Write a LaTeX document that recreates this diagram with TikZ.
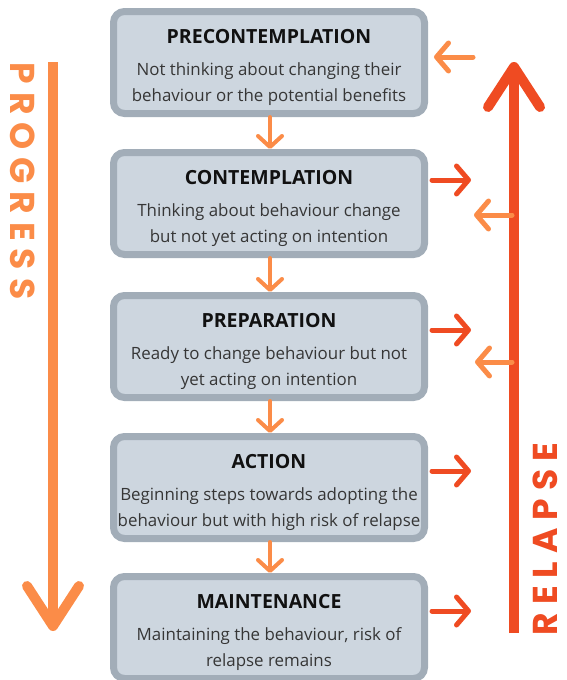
\documentclass[tikz,border=0pt]{standalone}
\usepackage{fontspec}
\setmainfont{Open Sans}
\newfontfamily\popfont[LetterSpace=23]{Poppins}
\usetikzlibrary{arrows.meta,calc}
\definecolor{boxfill}{HTML}{CDD6DF}
\definecolor{boxline}{HTML}{A2ADB8}
\definecolor{titlecol}{HTML}{111111}
\definecolor{bodycol}{HTML}{363636}
\definecolor{progcol}{HTML}{FB8C48}
\definecolor{relcol}{HTML}{EF4B22}
\tikzset{
  stagebox/.style={draw=boxline, fill=boxfill, line width=7pt, rounded corners=11pt,
    minimum width=311pt, minimum height=102pt, inner sep=0pt},
  stagetitle/.style={anchor=base, inner sep=0pt, text=titlecol, font=\fontsize{19.5}{22}\selectfont\bfseries},
  stagetext/.style={anchor=base, inner sep=0pt, text=bodycol, font=\fontsize{16.9}{20}\selectfont},
  flowarrow/.style={draw=progcol, line width=4pt, line cap=round, -{Straight Barb[length=11pt,width=24pt,round]}},
  backarrow/.style={draw=progcol, line width=5pt, line cap=round, -{Straight Barb[length=12pt,width=28pt,round]}},
  outarrow/.style={draw=relcol, line width=5pt, line cap=round, -{Straight Barb[length=12pt,width=28pt,round]}},
  bigarrow/.style={line width=10pt, -{Straight Barb[length=40pt,width=52pt,round]}},
  sidelabel/.style={inner sep=0pt, anchor=base, text depth=0pt, font=\popfont\bfseries\fontsize{34.5}{38}\selectfont}
}
\newcommand{\stage}[5]{%
  \node[stagebox] (#1) at (269,#2+54.5) {};
  \node[stagetitle] (#1t) at ([yshift=-35pt]#1.north) {#3};
  \node[stagetext] (#1a) at ([yshift=-67.5pt]#1.north) {#4};
  \node[stagetext] (#1b) at ([yshift=-93pt]#1.north) {#5};
}
\begin{document}
\begin{tikzpicture}[x=1pt,y=-1pt]
\useasboundingbox (0,0) rectangle (566,680);
\clip (0,0) rectangle (566,680);
\stage{s1}{8}{PRECONTEMPLATION}{Not thinking about changing their}{behaviour or the potential benefits}
\stage{s2}{149}{CONTEMPLATION}{Thinking about behaviour change}{but not yet acting on intention}
\stage{s3}{292}{PREPARATION}{Ready to change behaviour but not}{yet acting on intention}
\stage{s4}{433}{ACTION}{Beginning steps towards adopting the}{behaviour but with high risk of relapse}
\stage{s5}{573}{MAINTENANCE}{Maintaining the behaviour, risk of}{relapse remains}
% flow arrows
\draw[flowarrow] ([xshift=1pt]s1.south) -- ([xshift=1pt]s2.north);
\draw[flowarrow] ([xshift=1pt]s2.south) -- ([xshift=1pt]s3.north);
\draw[flowarrow] ([xshift=1pt]s3.south) -- ([xshift=1pt]s4.north);
\draw[flowarrow] ([xshift=1pt]s4.south) -- ([xshift=1pt]s5.north);
% progress
\coordinate (pTop) at (53,62);
\coordinate (pBot) at (53,631);
\draw[bigarrow, draw=progcol] (pTop) -- (pBot);
\node[sidelabel, text=progcol, rotate=-90] (prog) at (10,181) {PROGRESS};
% relapse
\coordinate (rBot) at (514,633);
\coordinate (rTop) at (514,62);
\draw[bigarrow, draw=relcol] (rBot) -- (rTop);
\node[sidelabel, text=relcol, rotate=90] (rel) at (557,539) {RELAPSE};
% side arrows
\coordinate (b1s) at (473,57);  \coordinate (b1e) at (434,57);
\draw[backarrow] (b1s) -- (b1e);
\coordinate (o2s) at (432,180); \coordinate (o2e) at (471,180);
\draw[outarrow] (o2s) -- (o2e);
\coordinate (b2s) at (512,215); \coordinate (b2e) at (474,215);
\draw[backarrow] (b2s) -- (b2e);
\coordinate (o3s) at (432,330); \coordinate (o3e) at (471,330);
\draw[outarrow] (o3s) -- (o3e);
\coordinate (b3s) at (512,362); \coordinate (b3e) at (475,362);
\draw[backarrow] (b3s) -- (b3e);
\coordinate (o4s) at (432,471); \coordinate (o4e) at (471,471);
\draw[outarrow] (o4s) -- (o4e);
\coordinate (o5s) at (432,611); \coordinate (o5e) at (471,611);
\draw[outarrow] (o5s) -- (o5e);
\end{tikzpicture}
\end{document}
